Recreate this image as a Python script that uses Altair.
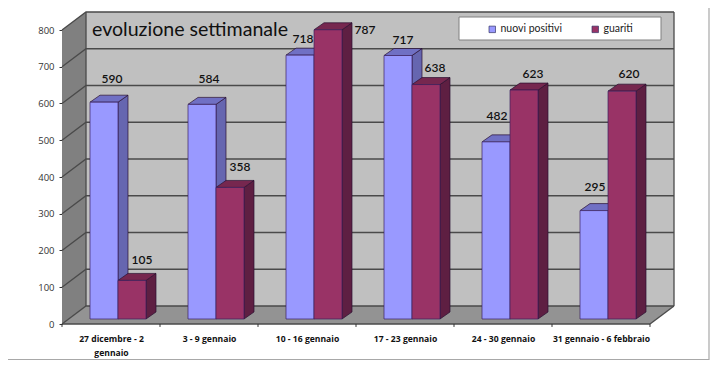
import altair as alt
import pandas as pd

categories = ["27 dicembre - 2 gennaio", "3 - 9 gennaio", "10 - 16 gennaio",
              "17 - 23 gennaio", "24 - 30 gennaio", "31 gennaio - 6 febbraio"]
axis_lines = [["27 dicembre - 2", "gennaio"], ["3 - 9 gennaio"], ["10 - 16 gennaio"],
              ["17 - 23 gennaio"], ["24 - 30 gennaio"], ["31 gennaio - 6 febbraio"]]
nuovi_positivi = [590, 584, 718, 717, 482, 295]
guariti = [105, 358, 787, 638, 623, 620]
y_ticks = [0, 100, 200, 300, 400, 500, 600, 700, 800]

# pixel geometry of the reference, expressed in data units
PX_X = 98.0            # px per category
PX_Y = 36.75 / 100.0   # px per unit
W, H = 612, 312
WALL_X, WALL_Y = 24 / PX_X, 18 / PX_Y
BAR_W = 28 / PX_X
BAR_X0 = 28 / PX_X
BAR_DX, BAR_DY = 10 / PX_X, 7 / PX_Y
BAR_BASE = 5 / PX_Y
XMAX = 6 + WALL_X
YMAX = 800 + WALL_Y

x_scale = alt.Scale(domain=[0, XMAX], nice=False, zero=False)
y_scale = alt.Scale(domain=[0, YMAX], nice=False, zero=False)

faces = []
fid = 0


def quad_side(x0, dx, low, high, dy, fill):
    global fid
    fid += 1
    faces.append(dict(x=x0, y=low, y2=high, g=fid, fill=fill))
    faces.append(dict(x=x0 + dx, y=low + dy, y2=high + dy, g=fid, fill=fill))


def quad_top(x0, w, dx, level, dy, fill):
    global fid
    fid += 1
    faces.append(dict(x=x0, y=level, y2=level, g=fid, fill=fill))
    faces.append(dict(x=x0 + dx, y=level, y2=level + dy, g=fid, fill=fill))
    faces.append(dict(x=x0 + w, y=level, y2=level + dy, g=fid, fill=fill))
    faces.append(dict(x=x0 + w + dx, y=level + dy, y2=level + dy, g=fid, fill=fill))


# walls
walls = []
_saved = faces
faces = walls
quad_side(0, WALL_X, 0, 800, WALL_Y, "#808080")
quad_top(0, 6, WALL_X, 0, WALL_Y, "#939393")
faces = _saved

# bars
fronts = []
for col, (name, vals, front, side, top) in enumerate([
    ("nuovi positivi", nuovi_positivi, "#9999FF", "#6666B0", "#7070C4"),
    ("guariti", guariti, "#993366", "#5E1F42", "#76274F"),
]):
    for i, v in enumerate(vals):
        x0 = i + BAR_X0 + col * BAR_W
        fronts.append(dict(series=name, x=x0, x2=x0 + BAR_W, y=BAR_BASE, y2=BAR_BASE + v))
        quad_side(x0 + BAR_W, BAR_DX, BAR_BASE, BAR_BASE + v, BAR_DY, side)
        quad_top(x0, BAR_W, BAR_DX, BAR_BASE + v, BAR_DY, top)

# scaffold lines
lines = []
lid = 0
for v in y_ticks:
    lid += 1
    lines += [dict(x=0, y=v, g=lid), dict(x=WALL_X, y=v + WALL_Y, g=lid),
              dict(x=XMAX, y=v + WALL_Y, g=lid)]
lid += 1
lines += [dict(x=6, y=0, g=lid), dict(x=XMAX, y=WALL_Y, g=lid)]
lid += 1
lines += [dict(x=WALL_X, y=WALL_Y, g=lid), dict(x=WALL_X, y=YMAX, g=lid)]
lid += 1
lines += [dict(x=XMAX, y=WALL_Y, g=lid), dict(x=XMAX, y=YMAX, g=lid)]
lid += 1
lines += [dict(x=0, y=0, g=lid), dict(x=6, y=0, g=lid)]

ticks = [dict(x=i, y=0, y2=-8) for i in range(7)]

# value labels: pixel nudges relative to each bar's front-top centre
label_dx = [[8, 7, 3, 5, 1, 1], [10, 10, 37, 9, 9, 7]]
label_dy = [[23, 25, 16, 16, 26, 24], [20, 20, 0, 17, 16, 17]]
labels = []
for col, vals in enumerate([nuovi_positivi, guariti]):
    for i, v in enumerate(vals):
        labels.append(dict(
            x=i + BAR_X0 + (col + 0.5) * BAR_W + label_dx[col][i] / PX_X,
            y=BAR_BASE + v + label_dy[col][i] / PX_Y,
            t=str(v)))

X = alt.X("x:Q", scale=x_scale, title=None,
          axis=alt.Axis(values=[i + 0.5 for i in range(6)],
                        labelExpr=f"{axis_lines}[floor(datum.value)]",
                        domain=False, ticks=False, grid=False, labelPadding=10,
                        labelFont="Open Sans", labelFontSize=8.6, labelFontWeight="bold",
                        labelColor="#111111", labelAngle=0, labelBaseline="top",
                        labelLineHeight=14, labelOverlap=False, labelFlush=False,
                        labelLimit=200))
Y = alt.Y("y:Q", scale=y_scale, title=None,
          axis=alt.Axis(values=y_ticks, domain=False, grid=False, tickSize=3,
                        tickColor="#333333", labelPadding=5, labelFont="Open Sans",
                        labelFontSize=9.5, labelColor="#333333", labelOverlap=False,
                        labelSeparation=0, format="d"))
Xn, Yn = X, Y


def area_layer(rows, **mark):
    df = pd.DataFrame(rows)
    return alt.Chart(df).mark_area(opacity=1, orient="vertical", **mark).encode(
        x=Xn, y=Yn, y2="y2:Q", detail="g:N", color=alt.Color("fill:N", scale=None))


back = alt.Chart(pd.DataFrame([dict(x=WALL_X, x2=XMAX, y=WALL_Y, y2=YMAX)])).mark_rect(
    color="#C0C0C0").encode(x=X, x2="x2:Q", y=Y, y2="y2:Q")
wall = area_layer(walls)
grid = alt.Chart(pd.DataFrame(lines)).mark_line(color="#4A4A4A", strokeWidth=1.3).encode(
    x=Xn, y=Yn, detail="g:N", order="x:Q")
base_tick = alt.Chart(pd.DataFrame(ticks)).mark_rule(color="#333333", strokeWidth=1).encode(
    x=Xn, y=Yn, y2="y2:Q")
faces_layer = area_layer(faces, stroke="#2A1030", strokeWidth=0.7)
front_layer = alt.Chart(pd.DataFrame(fronts)).mark_rect(strokeWidth=0.7, stroke="#3A2060").encode(
    x=Xn, x2="x2:Q", y=Yn, y2="y2:Q",
    fill=alt.Fill("series:N",
                  scale=alt.Scale(domain=["nuovi positivi", "guariti"],
                                  range=["#9999FF", "#993366"]),
                  legend=alt.Legend(title=None, orient="none", legendX=425, legendY=12,
                                    direction="horizontal", symbolType="square",
                                    symbolSize=42, symbolStrokeColor="#333366",
                                    symbolStrokeWidth=0.7, labelFont="Lato",
                                    labelFontSize=10.5, labelColor="#222222",
                                    columnPadding=28, symbolOffset=0, labelOffset=3)))
text_layer = alt.Chart(pd.DataFrame(labels)).mark_text(
    font="Lato", fontSize=12, fontWeight=600, color="#111111", align="center", baseline="middle"
).encode(x=Xn, y=Yn, text="t:N")

legend_box = alt.Chart(pd.DataFrame([dict(a=1)])).mark_rect(
    fill="white", stroke="#808080", strokeWidth=1).encode(
    x=alt.value(397), x2=alt.value(599), y=alt.value(5), y2=alt.value(28))
frame_lines = pd.DataFrame([
    dict(x=(709 - 62) / PX_X, y=(324 - 4) / PX_Y, g=1),
    dict(x=(709 - 62) / PX_X, y=-(359.5 - 324) / PX_Y, g=1),
    dict(x=-(62 - 8) / PX_X, y=-(359.5 - 324) / PX_Y, g=1),
])
frame = alt.Chart(frame_lines).mark_line(color="#A8A8A8", strokeWidth=1.2).encode(
    x=Xn, y=Yn, detail="g:N", order=alt.Order("y:Q", sort="descending"))

chart = alt.layer(back, wall, grid, base_tick, faces_layer, front_layer, text_layer,
                  legend_box, frame).resolve_scale(x="shared", y="shared").properties(
    width=W, height=H,
    padding={"left": 54, "top": 4, "right": 38, "bottom": 36},
    autosize=alt.AutoSizeParams(type="none"),
    background="white",
    title=alt.TitleParams("evoluzione settimanale", anchor="start", frame="group", dx=30, dy=43,
                          font="Lato", fontSize=19.6, fontWeight="normal", color="#111111"),
).configure_view(stroke=None)

chart.save("out.html", embed_options={"renderer": "svg", "actions": False})
